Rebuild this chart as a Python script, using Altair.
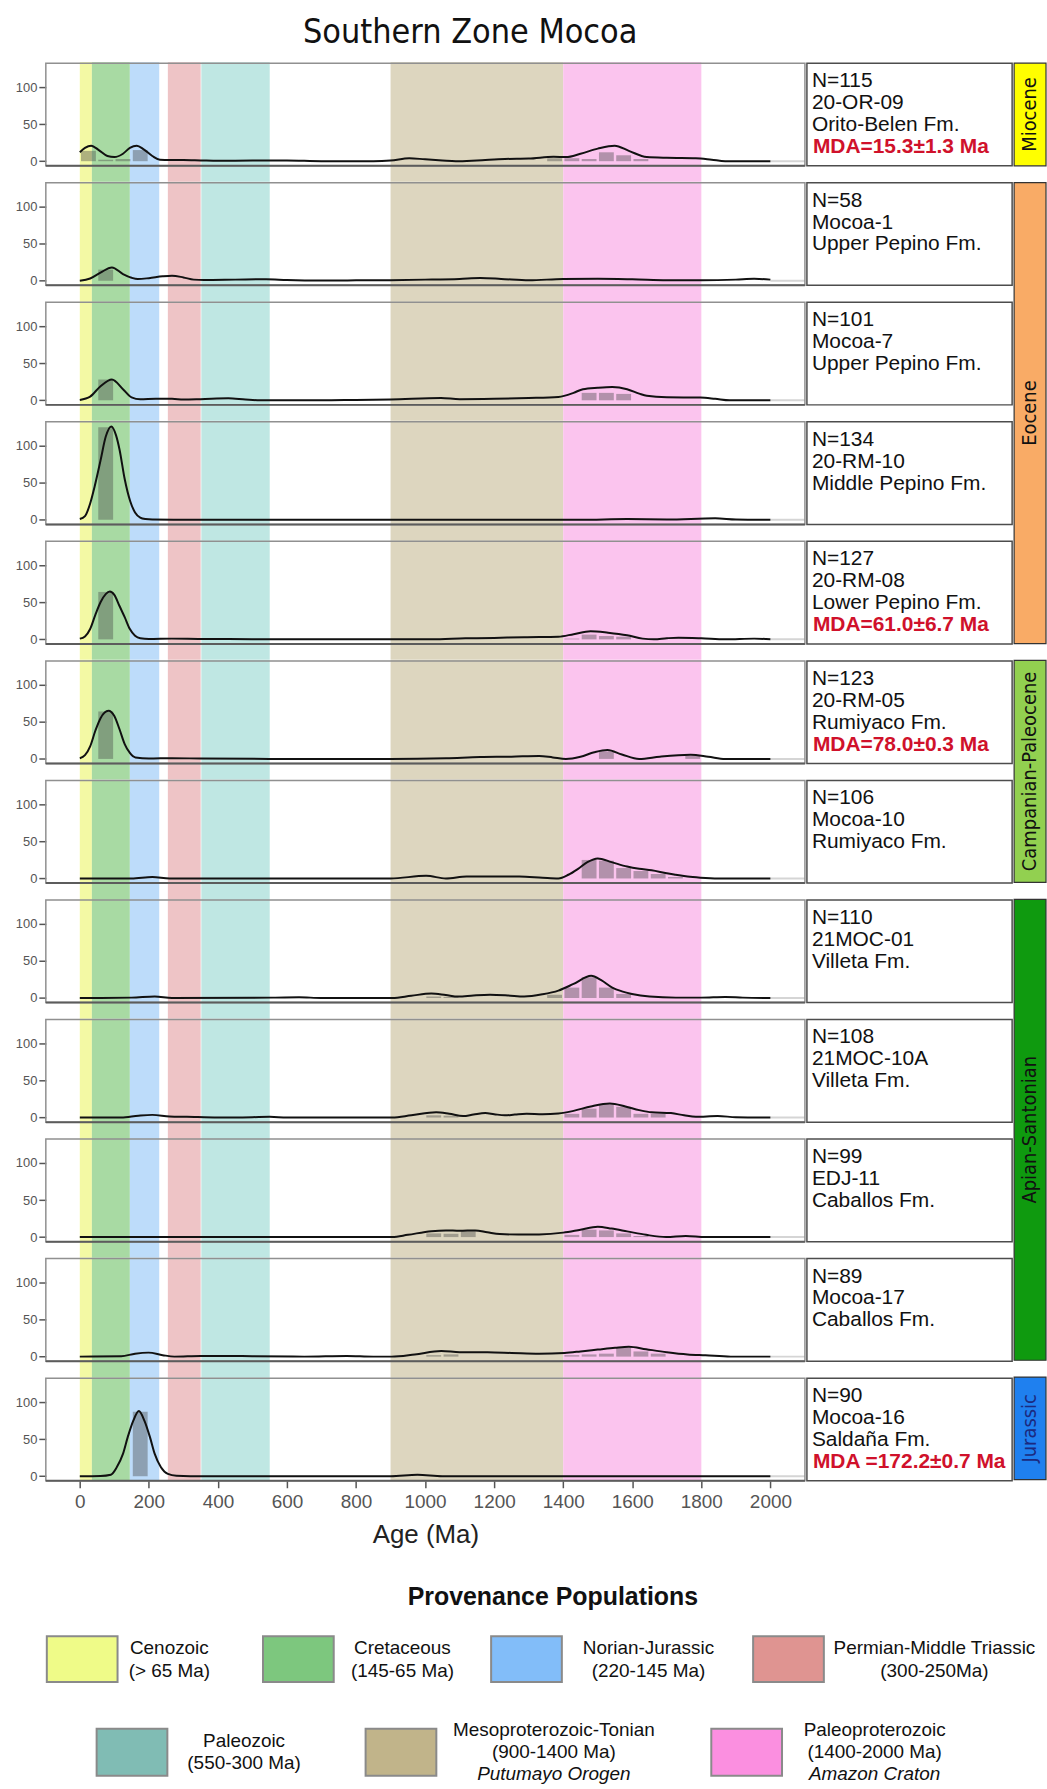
import altair as alt
import pandas as pd

# ---------------------------------------------------------------------------
# Provenance populations (age windows in Ma)
# ---------------------------------------------------------------------------
POP_NAMES = ["Cenozoic", "Cretaceous", "Norian-Jurassic", "Permian-Middle Triassic",
             "Paleozoic", "Mesoproterozoic-Tonian", "Paleoproterozoic"]
POP_START = [0, 35, 145, 255, 352, 900, 1400]
POP_END = [35, 145, 230, 350, 550, 1400, 1800]
POP_BAND = ["#f3f9a4", "#a8daa3", "#bddcfa", "#eec4c6", "#bfe7e3", "#ddd6bf", "#fbc4ee"]
POP_SWATCH = ["#effb88", "#7dc77e", "#82bdf9", "#df9491", "#80bcb4", "#c1b48a", "#fb8fe0"]
POP_LABEL = [["Cenozoic", "(> 65 Ma)"], ["Cretaceous", "(145-65 Ma)"],
             ["Norian-Jurassic", "(220-145 Ma)"], ["Permian-Middle Triassic", "(300-250Ma)"],
             ["Paleozoic", "(550-300 Ma)"], ["Mesoproterozoic-Tonian", "(900-1400 Ma)"],
             ["Paleoproterozoic", "(1400-2000 Ma)"]]
POP_NOTE = ["", "", "", "", "", "Putumayo Orogen", "Amazon Craton"]

# ---------------------------------------------------------------------------
# Samples (top to bottom)
# ---------------------------------------------------------------------------
SAMPLE_N = [115, 58, 101, 134, 127, 123, 106, 110, 108, 99, 89, 90]
SAMPLE_ID = ["20-OR-09", "Mocoa-1", "Mocoa-7", "20-RM-10", "20-RM-08", "20-RM-05",
             "Mocoa-10", "21MOC-01", "21MOC-10A", "EDJ-11", "Mocoa-17", "Mocoa-16"]
SAMPLE_FM = ["Orito-Belen Fm.", "Upper Pepino Fm.", "Upper Pepino Fm.", "Middle Pepino Fm.",
             "Lower Pepino Fm.", "Rumiyaco Fm.", "Rumiyaco Fm.", "Villeta Fm.", "Villeta Fm.",
             "Caballos Fm.", "Caballos Fm.", "Saldaña Fm."]
SAMPLE_MDA = ["MDA=15.3±1.3 Ma", "", "", "", "MDA=61.0±6.7 Ma", "MDA=78.0±0.3 Ma",
              "", "", "", "", "", "MDA =172.2±0.7 Ma"]

# KDE curves: (age Ma, density)
KDE_OR09 = [(0, 12), (15, 18), (33, 21), (55, 15), (80, 7), (100, 5.5), (125, 10), (145, 18),
            (165, 21), (185, 16), (210, 7), (232, 2), (260, 1.5), (300, 1.5), (350, 1), (400, 0.5),
            (500, 1), (600, 1), (700, 0), (850, 0), (900, 0.8), (954, 4), (1000, 2.5), (1050, 1),
            (1089, 0), (1150, 1), (1231, 3), (1300, 3.5), (1372, 6), (1408, 5.5), (1450, 10),
            (1500, 17), (1549, 21), (1590, 14), (1642, 5.5), (1700, 4.5), (1784, 4), (1830, 2),
            (1869, 0), (2000, 0)]
KDE_MOC1 = [(0, 0), (30, 3), (60, 11), (93, 18), (125, 9), (150, 4), (168, 2.3), (200, 3.5),
            (240, 6), (267, 6.8), (300, 4.5), (330, 1.5), (360, 1), (450, 1.5), (540, 2), (600, 1),
            (700, 0.3), (800, 0.5), (900, 0.8), (1000, 1.5), (1100, 2.5), (1160, 3.6), (1220, 2.5),
            (1301, 0.5), (1400, 2.5), (1500, 2.7), (1600, 2), (1700, 0.8), (1800, 0.5), (1900, 1.5),
            (1953, 2.7), (2000, 1.5)]
KDE_MOC7 = [(0, 0.5), (30, 5), (60, 19), (93, 28), (125, 15), (150, 4), (175, 1.4), (220, 2),
            (267, 2), (300, 1), (350, 1.5), (430, 2.7), (480, 1), (522, 0), (700, 0), (800, 0.5),
            (900, 1), (1046, 3), (1100, 1.5), (1200, 2), (1300, 3), (1386, 4.5), (1430, 10),
            (1457, 15), (1500, 17), (1542, 18), (1585, 15), (1620, 9), (1642, 6), (1700, 4),
            (1797, 3.6), (1840, 2), (1882, 0), (2000, 0)]
KDE_RM10 = [(0, 1), (15, 5), (30, 22), (43, 45), (60, 80), (75, 112), (91, 126), (105, 114),
            (115, 95), (130, 55), (146, 25), (160, 10), (175, 3), (190, 1), (210, 0.3), (300, 0),
            (1000, 0), (1450, 0), (1585, 1), (1700, 0.5), (1840, 2), (1900, 0.5), (2000, 0)]
KDE_RM08 = [(0, 1), (15, 4), (30, 14), (45, 33), (60, 50), (75, 61), (87, 64.5), (100, 60),
            (115, 45), (130, 30), (145, 14), (160, 5), (175, 1.5), (200, 0.5), (267, 1), (350, 0.5),
            (500, 0.3), (600, 0), (1018, 0), (1117, 1.4), (1200, 2), (1287, 3), (1386, 3.6),
            (1430, 7), (1479, 11), (1530, 9), (1585, 5.5), (1630, 1), (1663, 0), (1700, 1.5),
            (1734, 2.3), (1800, 1.5), (1869, 0), (1953, 1), (2000, 0)]
KDE_RM05 = [(0, 1), (15, 5), (30, 17), (45, 38), (60, 55), (83, 65), (100, 58), (115, 40),
            (130, 20), (145, 8), (161, 2), (200, 0.5), (267, 1), (350, 0.5), (550, 0), (900, 0),
            (1061, 1), (1160, 2.5), (1250, 3), (1330, 4), (1370, 2), (1408, 0), (1450, 3),
            (1490, 9), (1528, 12), (1570, 6), (1620, 0), (1680, 3), (1769, 5.5), (1820, 3),
            (1869, 0), (2000, 0)]
KDE_MOC10 = [(0, 0), (150, 0), (210, 2), (260, 0), (900, 0), (1003, 3.6), (1060, 0), (1120, 2.5),
             (1200, 2.7), (1273, 2.7), (1340, 1), (1386, 0), (1415, 5), (1443, 13), (1470, 22),
             (1500, 27), (1540, 22), (1585, 16), (1620, 13), (1656, 11), (1700, 7), (1726, 5),
             (1760, 2.5), (1797, 1), (1850, 0), (2000, 0)]
KDE_MOC01 = [(0, 0), (150, 0.5), (217, 2), (267, 0), (560, 0.5), (635, 1), (700, 0), (905, 0),
             (960, 3), (1018, 6), (1060, 4), (1096, 2), (1140, 3.5), (1188, 4.5), (1240, 3.5),
             (1287, 2), (1340, 5), (1386, 10), (1430, 19), (1481, 30), (1510, 24), (1542, 14),
             (1570, 9), (1599, 5.5), (1650, 2), (1726, 0.5), (1800, 0.5), (1869, 1.4),
             (1920, 0.5), (2000, 0)]
KDE_MOC10A = [(0, 0), (120, 0), (170, 2.5), (210, 3.6), (260, 1.5), (310, 1), (400, 0), (500, 0.5),
              (550, 1), (600, 0), (905, 0), (960, 3), (1032, 7), (1070, 5), (1110, 2), (1140, 4),
              (1174, 6), (1200, 4.5), (1231, 3), (1260, 4), (1294, 5), (1340, 4.5), (1386, 5.5),
              (1430, 9), (1480, 15), (1535, 19), (1580, 15), (1620, 10), (1656, 7), (1712, 6),
              (1750, 3), (1784, 1), (1847, 2), (1900, 0.5), (2000, 0)]
KDE_EDJ11 = [(0, 0), (905, 0), (950, 3), (1018, 8), (1060, 9), (1100, 8.5), (1145, 9), (1180, 6.5),
             (1216, 4), (1270, 3.5), (1330, 3.6), (1400, 6), (1450, 10), (1500, 14), (1540, 11.5),
             (1585, 7.7), (1640, 3), (1698, 0), (1755, 1.4), (1812, 0), (2000, 0)]
KDE_MOC17 = [(0, 0), (120, 0.5), (160, 4), (199, 5.4), (240, 2), (274, 0), (350, 1), (421, 1),
             (500, 0.5), (650, 0), (773, 1), (850, 0), (903, 0), (970, 3), (1047, 7.6), (1100, 6),
             (1181, 5.8), (1250, 5), (1330, 4), (1404, 5), (1450, 7), (1500, 9.5), (1550, 12),
             (1590, 13.4), (1640, 10), (1700, 6), (1760, 3), (1812, 1.8), (1885, 0), (2000, 0)]
KDE_MOC16 = [(0, 0), (60, 0.3), (90, 2), (107, 12), (125, 30), (139, 53), (155, 75), (171, 88),
             (187, 75), (203, 53), (217, 30), (235, 12), (255, 3), (280, 0.5), (320, 0), (900, 0),
             (978, 1.8), (1050, 0), (2000, 0)]

# Histograms: (bin start Ma, count), 50 Ma bins
HIST_OR09 = [(0, 14), (50, 2), (100, 3), (150, 15), (1350, 4), (1400, 4), (1450, 3), (1500, 12),
             (1550, 8), (1600, 3)]
HIST_MOC1 = [(50, 15)]
HIST_MOC7 = [(50, 28), (1450, 10), (1500, 10), (1550, 8.6)]
HIST_RM10 = [(50, 125)]
HIST_RM08 = [(50, 64), (1400, 1), (1450, 6.4), (1500, 4.5), (1550, 3.6)]
HIST_RM05 = [(50, 64), (1500, 10), (1750, 4)]
HIST_MOC10 = [(1450, 25), (1500, 24), (1550, 14), (1600, 10), (1650, 6), (1700, 2)]
HIST_MOC01 = [(1000, 2), (1050, 1.5), (1350, 4.5), (1400, 14), (1450, 28), (1500, 14), (1550, 5.5)]
HIST_MOC10A = [(1000, 3), (1050, 2.5), (1400, 5), (1450, 12), (1500, 17.7), (1550, 14.5),
               (1600, 5), (1650, 5)]
HIST_EDJ11 = [(1000, 5), (1050, 4.5), (1100, 8), (1400, 3), (1450, 10), (1500, 9), (1550, 5),
              (1600, 1.5)]
HIST_MOC17 = [(1000, 2), (1050, 3), (1400, 2), (1450, 3), (1500, 4), (1550, 12), (1600, 7), (1650, 4)]
HIST_MOC16 = [(150, 87)]

SAMPLE_KDE = [KDE_OR09, KDE_MOC1, KDE_MOC7, KDE_RM10, KDE_RM08, KDE_RM05, KDE_MOC10,
              KDE_MOC01, KDE_MOC10A, KDE_EDJ11, KDE_MOC17, KDE_MOC16]
SAMPLE_HIST = [HIST_OR09, HIST_MOC1, HIST_MOC7, HIST_RM10, HIST_RM08, HIST_RM05, HIST_MOC10,
               HIST_MOC01, HIST_MOC10A, HIST_EDJ11, HIST_MOC17, HIST_MOC16]

# Depositional age of each group of rows
PERIOD_NAMES = ["Miocene", "Eocene", "Campanian-Paleocene", "Apian-Santonian", "Jurassic"]
PERIOD_FIRST = [0, 1, 5, 7, 11]
PERIOD_LAST = [0, 4, 6, 10, 11]
PERIOD_FILL = ["#ffff00", "#f9ab66", "#92d050", "#0f9a0f", "#1f80ef"]
PERIOD_INK = ["#111111", "#111111", "#111111", "#111111", "#1b2a80"]

AGE_TICKS = list(range(0, 2001, 200))
AGE_MAX = 2000

# ---------------------------------------------------------------------------
# Layout
# ---------------------------------------------------------------------------
SANS = "Liberation Sans, Arial, Helvetica, sans-serif"
NARROW = "Liberation Sans Narrow, Arial Narrow, DejaVu Sans Condensed, Liberation Sans, sans-serif"

X_DOMAIN = [-98.4, 2100]
Y_DOMAIN = [-6.2, 133.6]
PLOT_W, LABEL_W, PERIOD_W = 762, 206, 32
PANEL_H, ROW_STEP = 104, 119.9
N_ROWS = len(SAMPLE_ID)
TOTAL_H = PANEL_H + ROW_STEP * (N_ROWS - 1)
BIN_W, BAR_INSET = 50, 3.5
TEXT_TOP, TEXT_STEP = 25, 22
EDGE = 1  # keeps frame strokes inside each row

XS = alt.Scale(domain=X_DOMAIN, nice=False, zero=False)
ONE = pd.DataFrame({"k": [0]})
bands_df = pd.DataFrame({"pop": POP_NAMES, "start": POP_START, "end": POP_END, "fill": POP_BAND})


def row_height(i):
    # every row but the last carries the white gap below its panel
    return PANEL_H if i == N_ROWS - 1 else ROW_STEP


def plot_row(i):
    row_h = row_height(i)
    ys = alt.Scale(domain=Y_DOMAIN, range=[PANEL_H, 0], nice=False, zero=False)
    if i == N_ROWS - 1:
        xaxis = alt.Axis(values=AGE_TICKS, format="d", title="Age (Ma)", domain=False, grid=False,
                         tickSize=7, tickColor="#555555", tickWidth=1.5,
                         labelColor="#555555", labelFontSize=19, labelFont=SANS, labelPadding=5,
                         titleFont=SANS, titleFontSize=26, titleFontWeight="normal",
                         titleColor="#222222", titlePadding=10)
    else:
        xaxis = None
    yaxis = alt.Axis(values=[0, 50, 100], title=None, domain=False, grid=False,
                     tickSize=7, tickColor="#555555", tickWidth=1.5,
                     labelColor="#555555", labelFontSize=13, labelFont=SANS, labelPadding=2)

    bands = alt.Chart(bands_df).mark_rect().encode(
        x=alt.X("start:Q", scale=XS, axis=xaxis), x2="end:Q",
        y=alt.value(0), y2=alt.value(row_h),
        color=alt.Color("fill:N", scale=None))

    hist = pd.DataFrame(SAMPLE_HIST[i], columns=["bin", "count"])
    bars = alt.Chart(hist).transform_calculate(
        lo=f"datum.bin + {BAR_INSET}", hi=f"datum.bin + {BIN_W - BAR_INSET}", base="0"
    ).mark_rect(color="#474747", opacity=0.4).encode(
        x=alt.X("lo:Q", scale=XS, axis=xaxis), x2="hi:Q",
        y=alt.Y("count:Q", scale=ys, axis=yaxis), y2="base:Q")

    tail = alt.Chart(ONE).transform_calculate(
        a=str(AGE_MAX), b=str(X_DOMAIN[1]), z="0"
    ).mark_rule(color="#d5d5d5", strokeWidth=2).encode(
        x=alt.X("a:Q", scale=XS, axis=xaxis), x2="b:Q",
        y=alt.Y("z:Q", scale=ys, axis=yaxis))

    kde = pd.DataFrame(SAMPLE_KDE[i], columns=["age", "density"])
    line = alt.Chart(kde).mark_line(color="#111111", strokeWidth=2, interpolate="monotone").encode(
        x=alt.X("age:Q", scale=XS, axis=xaxis),
        y=alt.Y("density:Q", scale=ys, axis=yaxis))

    frame = alt.Chart(ONE).mark_rect(fillOpacity=0, stroke="#909090", strokeWidth=1.5).encode(
        x=alt.value(0), x2=alt.value(PLOT_W), y=alt.value(EDGE), y2=alt.value(PANEL_H))
    floor = alt.Chart(ONE).mark_rule(color="#5c5c5c", strokeWidth=2).encode(
        x=alt.value(0), x2=alt.value(PLOT_W), y=alt.value(PANEL_H))

    return alt.layer(bands, bars, tail, line, frame, floor).properties(width=PLOT_W, height=row_h)


def label_row(i):
    row_h = row_height(i)
    box = alt.Chart(ONE).mark_rect(fill="white", stroke="#4d4d4d", strokeWidth=1.5).encode(
        x=alt.value(0), x2=alt.value(LABEL_W), y=alt.value(EDGE), y2=alt.value(PANEL_H))
    layers = [box]
    lines = [f"N={SAMPLE_N[i]}", SAMPLE_ID[i], SAMPLE_FM[i]]
    for k, t in enumerate(lines):
        layers.append(alt.Chart(ONE).mark_text(
            text=t, align="left", baseline="alphabetic", font=SANS, fontSize=21, color="#111111"
        ).encode(x=alt.value(5), y=alt.value(TEXT_TOP + TEXT_STEP * k)))
    if SAMPLE_MDA[i]:
        layers.append(alt.Chart(ONE).mark_text(
            text=SAMPLE_MDA[i], align="left", baseline="alphabetic", font=SANS, fontSize=21,
            fontWeight="bold", color="#d0112b"
        ).encode(x=alt.value(6), y=alt.value(TEXT_TOP + TEXT_STEP * 3)))
    return alt.layer(*layers).properties(width=LABEL_W, height=row_h)


rows = [alt.hconcat(plot_row(i), label_row(i), spacing=0) for i in range(N_ROWS)]
stack = alt.vconcat(*rows, spacing=0)

# Period column spanning the rows of each depositional age
period_df = pd.DataFrame({"name": PERIOD_NAMES, "first": PERIOD_FIRST, "last": PERIOD_LAST,
                          "fill": PERIOD_FILL, "ink": PERIOD_INK})
ps = alt.Scale(domain=[0, TOTAL_H], range=[0, TOTAL_H], nice=False, zero=False)
pbase = alt.Chart(period_df).transform_calculate(
    top=f"datum.first * {ROW_STEP} + {EDGE}",
    bottom=f"datum.last * {ROW_STEP} + {PANEL_H}",
    mid="(datum.top + datum.bottom) / 2")
prect = pbase.mark_rect(stroke="#333333", strokeWidth=1.2).encode(
    x=alt.value(0), x2=alt.value(PERIOD_W),
    y=alt.Y("top:Q", scale=ps, axis=None), y2="bottom:Q",
    color=alt.Color("fill:N", scale=None))
ptext = pbase.mark_text(angle=270, font=NARROW, fontSize=20, align="center", baseline="middle").encode(
    x=alt.value(16), y=alt.Y("mid:Q", scale=ps, axis=None), text="name:N",
    color=alt.Color("ink:N", scale=None))
period_col = alt.layer(prect, ptext).properties(width=PERIOD_W, height=TOTAL_H)

main = alt.hconcat(stack, period_col, spacing=0)

# ---------------------------------------------------------------------------
# Legend of provenance populations (page-pixel layout grid)
# ---------------------------------------------------------------------------
LX0, LY0, LW, LH = 46, 1548, 998, 241
SWATCH_W = 71
SLOT_X = [47, 264, 493, 756, 97, 367, 714]
SLOT_TOP = [1637, 1637, 1637, 1637, 1730, 1730, 1730]
SLOT_H = [46, 46, 46, 46, 47, 47, 47]
TEXT_CX = [170, 404, 651, 938, 245, 556, 878]
LINE_H = [23, 23, 23, 23, 22, 22, 22]

lx = alt.Scale(domain=[LX0, LX0 + LW], nice=False, zero=False)
ly = alt.Scale(domain=[LY0, LY0 + LH], range=[0, LH], nice=False, zero=False)

sw = pd.DataFrame({"pop": POP_NAMES, "fill": POP_SWATCH, "x0": SLOT_X,
                   "x1": [x + SWATCH_W for x in SLOT_X], "y0": SLOT_TOP,
                   "y1": [t + h for t, h in zip(SLOT_TOP, SLOT_H)]})
recs = []
for j in range(len(POP_NAMES)):
    lines = POP_LABEL[j] + ([POP_NOTE[j]] if POP_NOTE[j] else [])
    cy = SLOT_TOP[j] + SLOT_H[j] / 2
    n = len(lines)
    for k, t in enumerate(lines):
        recs.append({"text": t, "x": TEXT_CX[j], "y": cy + (k - (n - 1) / 2) * LINE_H[j],
                     "italic": k == 2})
leg_text = pd.DataFrame(recs)

swatches = alt.Chart(sw).mark_rect(stroke="#8a8a8a", strokeWidth=2).encode(
    x=alt.X("x0:Q", scale=lx, axis=None), x2="x1:Q",
    y=alt.Y("y0:Q", scale=ly, axis=None), y2="y1:Q",
    color=alt.Color("fill:N", scale=None))
plain = alt.Chart(leg_text).transform_filter("!datum.italic").mark_text(
    font=SANS, fontSize=19, color="#111111", align="center", baseline="middle").encode(
    x=alt.X("x:Q", scale=lx, axis=None), y=alt.Y("y:Q", scale=ly, axis=None), text="text:N")
slanted = alt.Chart(leg_text).transform_filter("datum.italic").mark_text(
    font=SANS, fontSize=19, fontStyle="italic", color="#111111", align="center",
    baseline="middle").encode(
    x=alt.X("x:Q", scale=lx, axis=None), y=alt.Y("y:Q", scale=ly, axis=None), text="text:N")
heading = alt.Chart(pd.DataFrame({"t": ["Provenance Populations"], "x": [555], "y": [1598]})).mark_text(
    font=SANS, fontSize=25, fontWeight="bold", color="#111111", align="center",
    baseline="middle").encode(
    x=alt.X("x:Q", scale=lx, axis=None), y=alt.Y("y:Q", scale=ly, axis=None), text="t:N")
legend = alt.layer(swatches, plain, slanted, heading).properties(width=LW, height=LH)

chart = alt.vconcat(main, legend, spacing=0).properties(
    title=alt.TitleParams("Southern Zone Mocoa", font=NARROW, fontSize=34, fontWeight="normal",
                          color="#111111", anchor="middle", dx=-61, offset=12),
    padding={"left": 15, "top": 13, "right": 0, "bottom": 0},
    background="white",
).configure_view(strokeWidth=0)

chart.save("out.html", embed_options={"renderer": "svg", "actions": False})
